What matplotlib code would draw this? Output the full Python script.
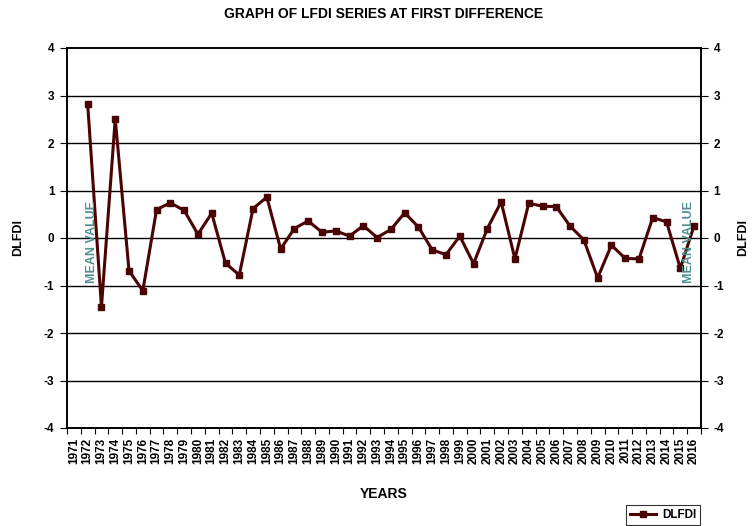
import matplotlib.pyplot as plt
import numpy as np

plt.rcParams['font.family'] = ['Liberation Sans', 'DejaVu Sans']
plt.rcParams['font.weight'] = 'bold'

#------------- donnees ---------------------------------------------
years = list(range(1971, 2017))
dlfdi = [np.nan, 2.82, -1.45, 2.51, -0.69, -1.11, 0.60, 0.74, 0.58, 0.08,
         0.52, -0.53, -0.78, 0.62, 0.86, -0.23, 0.20, 0.36, 0.12, 0.15,
         0.04, 0.26, 0.01, 0.18, 0.53, 0.23, -0.25, -0.35, 0.04, -0.54,
         0.20, 0.76, -0.44, 0.73, 0.67, 0.66, 0.25, -0.04, -0.84, -0.15,
         -0.43, -0.44, 0.43, 0.34, -0.64, 0.26]
yticks = [-4, -3, -2, -1, 0, 1, 2, 3, 4]

col = '#4a0404'
teal = '#4e8f8f'

fig = plt.figure(figsize=(7.52, 5.26), dpi=100)
ax = fig.add_axes([67/752, 98/526, 634/752, 380/526])

x = np.arange(len(years))
ax.plot(x, dlfdi, color=col, linewidth=2.2, marker='s', markersize=5,
        label='DLFDI', zorder=3)

ax.set_xlim(-0.5, len(years) - 0.5)
ax.set_ylim(-4, 4)

#------------ grille -----------------------------------------------
for v in yticks[1:-1]:
    ax.axhline(v, color='black', linewidth=1.0, zorder=1)

ax.set_yticks(yticks)
ax.set_yticklabels([str(v) for v in yticks], fontsize=8.5, fontweight='bold')
ax.tick_params(axis='y', direction='out', length=5, width=0.8, pad=4)

ax2 = ax.twinx()
ax2.set_ylim(-4, 4)
ax2.set_yticks(yticks)
ax2.set_yticklabels([str(v) for v in yticks], fontsize=8.5, fontweight='bold')
ax2.tick_params(axis='y', direction='out', length=5, width=0.8, pad=4)

ax.set_xticks(x)
ax.set_xticklabels([str(y) for y in years], rotation=90, fontsize=8.5,
                   fontweight='bold')
ax.set_xticks(np.arange(len(years) + 1) - 0.5, minor=True)
ax.tick_params(axis='x', which='major', length=0, pad=7)
ax.tick_params(axis='x', which='minor', direction='out', length=4, width=0.8)

for a in (ax, ax2):
    for s in a.spines.values():
        s.set_linewidth(1.2)
        s.set_color('black')

#------------ textes -----------------------------------------------
ax.text(1.3, -0.95, 'MEAN VALUE', rotation=90, color=teal, fontsize=9,
        fontweight='bold', ha='center', va='bottom')
ax.text(44.6, -0.95, 'MEAN VALUE', rotation=90, color=teal, fontsize=9,
        fontweight='bold', ha='center', va='bottom')

fig.text(384/752, 1 - 14/526, 'GRAPH OF LFDI SERIES AT FIRST DIFFERENCE',
         ha='center', va='center', fontsize=10, fontweight='bold')
fig.text(384/752, 1 - 494/526, 'YEARS', ha='center', va='center',
         fontsize=10, fontweight='bold')
fig.text(18/752, 1 - 238/526, 'DLFDI', rotation=90, ha='center',
         va='center', fontsize=9, fontweight='bold')
fig.text(743/752, 1 - 238/526, 'DLFDI', rotation=90, ha='center',
         va='center', fontsize=9, fontweight='bold')

leg = fig.legend(loc='center', bbox_to_anchor=(663/752, 1 - 515/526),
                 fontsize=8.5, frameon=True, fancybox=False,
                 handlelength=2.2, borderpad=0.3, handletextpad=0.5)
leg.get_frame().set_edgecolor('black')
leg.get_frame().set_linewidth(0.8)

plt.savefig('out.png', dpi=100)
